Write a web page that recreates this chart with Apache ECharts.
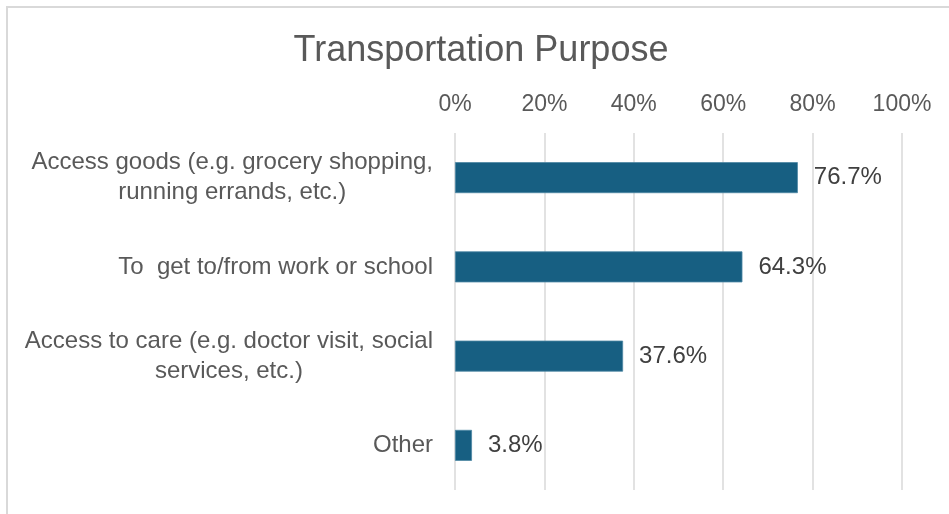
<!DOCTYPE html>
<html>
<head>
<meta charset="utf-8">
<script src="https://cdn.jsdelivr.net/npm/echarts@6/dist/echarts.min.js"></script>
<style>
  html, body { margin: 0; padding: 0; background: #ffffff; }
  #chart { width: 949px; height: 514px; }
</style>
</head>
<body>
<div id="chart"></div>
<script>
// Survey responses: purpose of transportation trips
const categories = [
  'Access goods (e.g. grocery shopping,\nrunning errands, etc.)',
  'To  get to/from work or school',
  'Access to care (e.g. doctor visit, social\nservices, etc.)',
  'Other'
];
const shares = [76.7, 64.3, 37.6, 3.8];
const axisTicks = [0, 20, 40, 60, 80, 100];

const textGray = '#595959';
const font = '"Liberation Sans", Arial, sans-serif';

const chart = echarts.init(document.getElementById('chart'));
chart.setOption({
  backgroundColor: '#ffffff',
  animation: false,
  textStyle: { fontFamily: font },
  title: {
    text: 'Transportation Purpose',
    left: 476,
    textAlign: 'center',
    top: 28,
    textStyle: { fontFamily: font, fontSize: 36, fontWeight: 'normal', color: textGray }
  },
  graphic: [{
    type: 'rect',
    shape: { x: 7, y: 7, width: 960, height: 530 },
    style: { fill: 'none', stroke: '#d9d9d9', lineWidth: 2 },
    silent: true,
    z: -1
  }],
  grid: { left: 455, right: 47, top: 133, bottom: 24 },
  xAxis: {
    type: 'value',
    position: 'top',
    min: axisTicks[0],
    max: axisTicks[axisTicks.length - 1],
    interval: axisTicks[1] - axisTicks[0],
    axisLine: { show: false },
    axisTick: { show: false },
    axisLabel: {
      formatter: '{value}%',
      fontFamily: font,
      fontSize: 23,
      color: textGray,
      margin: 17
    },
    splitLine: { lineStyle: { color: '#d9d9d9', width: 1.5 } }
  },
  yAxis: {
    type: 'category',
    inverse: true,
    data: categories,
    axisLine: { show: false },
    axisTick: { show: false },
    axisLabel: {
      margin: 22,
      formatter: function (v) {
        return v.split('\n').map(function (line) { return '{c|' + line + '}'; }).join('\n');
      },
      rich: {
        c: { align: 'center', fontFamily: font, fontSize: 24, lineHeight: 30, color: textGray }
      }
    }
  },
  series: [{
    type: 'bar',
    data: shares,
    barWidth: 31,
    itemStyle: { color: '#175f82', borderColor: '#4d87a3', borderWidth: 0.8 },
    label: {
      show: true,
      position: 'right',
      distance: 16,
      formatter: function (p) { return p.value.toFixed(1) + '%'; },
      fontFamily: font,
      fontSize: 24,
      color: '#404040'
    }
  }]
});
</script>
</body>
</html>
